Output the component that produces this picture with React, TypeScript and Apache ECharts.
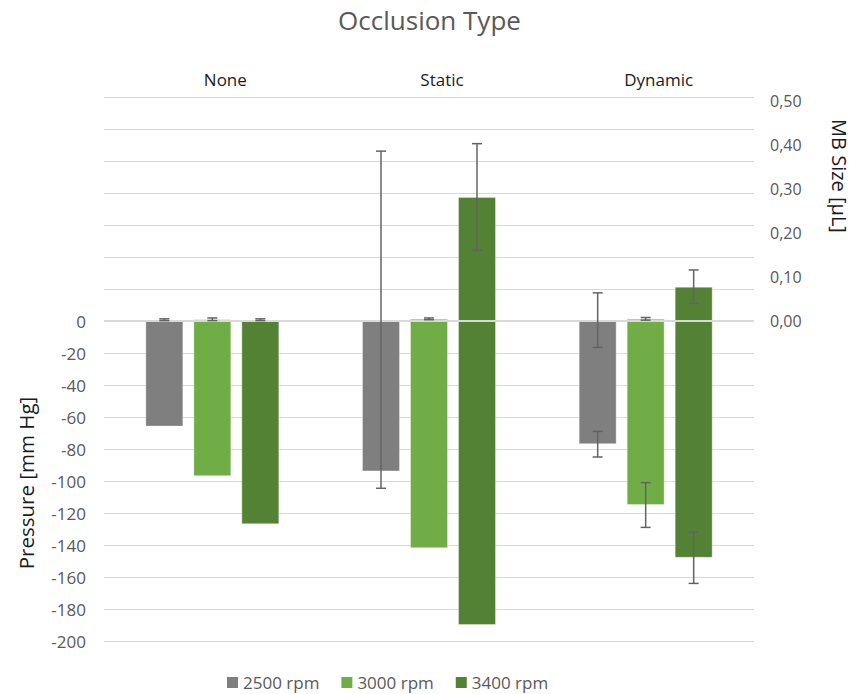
import React, { useEffect, useRef } from 'react';
import * as echarts from 'echarts';

// ---------- data ----------
const categories = ['None', 'Static', 'Dynamic'];
const seriesNames = ['2500 rpm', '3000 rpm', '3400 rpm'];
const colors = ['#7f7f7f', '#70ad47', '#548235'];

// Pressure [mm Hg] (left axis)
const pressure2500 = [-66, -94, -77];
const pressure3000 = [-97, -142, -115];
const pressure3400 = [-127, -190, -148];
const pressureErr2500 = [0, 0, 8];
const pressureErr3000 = [0, 0, 14];
const pressureErr3400 = [0, 0, 16];

// MB Size [µL] (right axis)
const mb2500 = [0.003, 0.003, 0.002];
const mb3000 = [0.004, 0.005, 0.005];
const mb3400 = [0.003, 0.282, 0.078];
const mbErr2500 = [0.002, 0.383, 0.062];
const mbErr3000 = [0.003, 0.002, 0.003];
const mbErr3400 = [0.002, 0.121, 0.038];

// axis ranges
const LEFT_MIN = -200;
const LEFT_MAX = 140;
const LEFT_INTERVAL = 20;
const RIGHT_MIN = -0.727;
const RIGHT_MAX = 0.509;

// ---------- styling ----------
const FONT = "'Open Sans', sans-serif";
const BAR_W = 38;
const BAR_GAP_PX = 10;
const CAP_W = 10;
const ERR_COLOR = '#636363';

const pressureSets = [pressure2500, pressure3000, pressure3400];
const pressureErrSets = [pressureErr2500, pressureErr3000, pressureErr3400];
const mbSets = [mb2500, mb3000, mb3400];
const mbErrSets = [mbErr2500, mbErr3000, mbErr3400];

function errorSeries(values: number[], errs: number[], idx: number, axisIdx: number) {
  const data: number[][] = [];
  values.forEach((v, i) => {
    if (errs[i] > 0) data.push([i, v - errs[i], v + errs[i]]);
  });
  return {
    type: 'custom',
    xAxisIndex: axisIdx,
    yAxisIndex: axisIdx,
    z: 10,
    silent: true,
    data,
    encode: { x: 0, y: [1, 2] },
    renderItem: (params: any, api: any) => {
      const ci = api.value(0);
      const lo = api.coord([ci, api.value(1)]);
      const hi = api.coord([ci, api.value(2)]);
      const x = lo[0] + (idx - 1) * (BAR_W + BAR_GAP_PX);
      const half = CAP_W / 2;
      const style = { stroke: ERR_COLOR, lineWidth: 1.5 };
      return {
        type: 'group',
        children: [
          { type: 'line', shape: { x1: x, y1: lo[1], x2: x, y2: hi[1] }, style },
          { type: 'line', shape: { x1: x - half, y1: lo[1], x2: x + half, y2: lo[1] }, style },
          { type: 'line', shape: { x1: x - half, y1: hi[1], x2: x + half, y2: hi[1] }, style },
        ],
      };
    },
  };
}

function buildOption() {
  const barGap = `${(BAR_GAP_PX / BAR_W) * 100}%`;
  const series: any[] = [];
  pressureSets.forEach((vals, i) => {
    const s: any = {
      type: 'bar',
      name: seriesNames[i],
      xAxisIndex: 0,
      yAxisIndex: 0,
      data: vals,
      barWidth: BAR_W,
      barGap,
      itemStyle: { color: colors[i], borderColor: 'rgba(255,255,255,0.35)', borderWidth: 1 },
    };
    if (i === 0) {
      s.markLine = {
        silent: true,
        symbol: ['none', 'none'],
        label: { show: false },
        lineStyle: { color: '#d9d9d9', width: 2, type: 'solid' },
        data: [{ yAxis: 0 }],
      };
    }
    series.push(s);
  });
  mbSets.forEach((vals, i) => {
    series.push({
      type: 'bar',
      name: seriesNames[i],
      xAxisIndex: 1,
      yAxisIndex: 1,
      data: vals,
      barWidth: BAR_W,
      barGap,
      itemStyle: { color: colors[i], borderColor: 'rgba(255,255,255,0.35)', borderWidth: 1 },
    });
  });
  pressureSets.forEach((vals, i) => series.push(errorSeries(vals, pressureErrSets[i], i, 0)));
  mbSets.forEach((vals, i) => series.push(errorSeries(vals, mbErrSets[i], i, 1)));

  return {
    animation: false,
    textStyle: { fontFamily: FONT },
    title: {
      text: 'Occlusion Type',
      left: 'center',
      top: 2,
      textStyle: { fontFamily: FONT, fontSize: 26, fontWeight: 'normal', color: '#595959' },
    },
    legend: {
      data: seriesNames,
      left: 227,
      top: 674,
      padding: 0,
      icon: 'rect',
      itemWidth: 11,
      itemHeight: 11,
      itemGap: 22,
      itemStyle: { borderWidth: 0 },
      textStyle: { fontFamily: FONT, fontSize: 17, color: '#595959' },
    },
    grid: { left: 104, right: 105, top: 97, bottom: 53, containLabel: false },
    xAxis: [
      {
        type: 'category',
        position: 'top',
        data: categories,
        axisLine: { show: false },
        axisTick: { show: false },
        axisLabel: {
          fontFamily: FONT,
          fontSize: 17,
          color: '#1a1a1a',
          margin: 9,
          padding: [0, 0, 0, 26],
        },
      },
      {
        type: 'category',
        position: 'bottom',
        data: categories,
        show: false,
      },
    ],
    yAxis: [
      {
        type: 'value',
        min: LEFT_MIN,
        max: LEFT_MAX,
        interval: LEFT_INTERVAL,
        axisLine: { show: false },
        axisTick: { show: false },
        splitLine: { show: true, lineStyle: { color: '#d9d9d9', width: 1 } },
        axisLabel: {
          fontFamily: FONT,
          fontSize: 17,
          color: '#595959',
          margin: 18,
          formatter: (v: number) => (v > 0 ? '' : String(v)),
        },
      },
      {
        type: 'value',
        position: 'right',
        min: RIGHT_MIN,
        max: RIGHT_MAX,
        splitNumber: 10,
        axisLine: { show: false },
        axisTick: { show: false },
        splitLine: { show: false },
        axisLabel: {
          fontFamily: FONT,
          fontSize: 16,
          color: '#595959',
          margin: 16,
          formatter: (v: number) => {
            if (v < -1e-9) return '';
            const r = Math.round(v * 10) / 10;
            if (Math.abs(v - r) > 1e-6) return '';
            return r.toFixed(2).replace('.', ',');
          },
        },
      },
    ],
    graphic: [
      {
        type: 'text',
        x: 26,
        y: 483,
        rotation: Math.PI / 2,
        style: {
          text: 'Pressure [mm Hg]',
          font: `20.5px ${FONT}`,
          fill: '#1a1a1a',
          align: 'center',
          verticalAlign: 'middle',
        },
      },
      {
        type: 'text',
        x: 839,
        y: 176,
        rotation: -Math.PI / 2,
        style: {
          text: 'MB Size [µL]',
          font: `20px ${FONT}`,
          fill: '#1a1a1a',
          align: 'center',
          verticalAlign: 'middle',
        },
      },
    ],
    series,
  };
}

export default function App() {
  const ref = useRef<HTMLDivElement>(null);
  useEffect(() => {
    const chart = echarts.init(ref.current as HTMLDivElement, null, { renderer: 'svg' });
    chart.setOption(buildOption() as any);
    return () => chart.dispose();
  }, []);
  return (
    <div
      ref={ref}
      style={{ position: 'absolute', left: 0, top: 0, width: 859, height: 694 }}
    />
  );
}
